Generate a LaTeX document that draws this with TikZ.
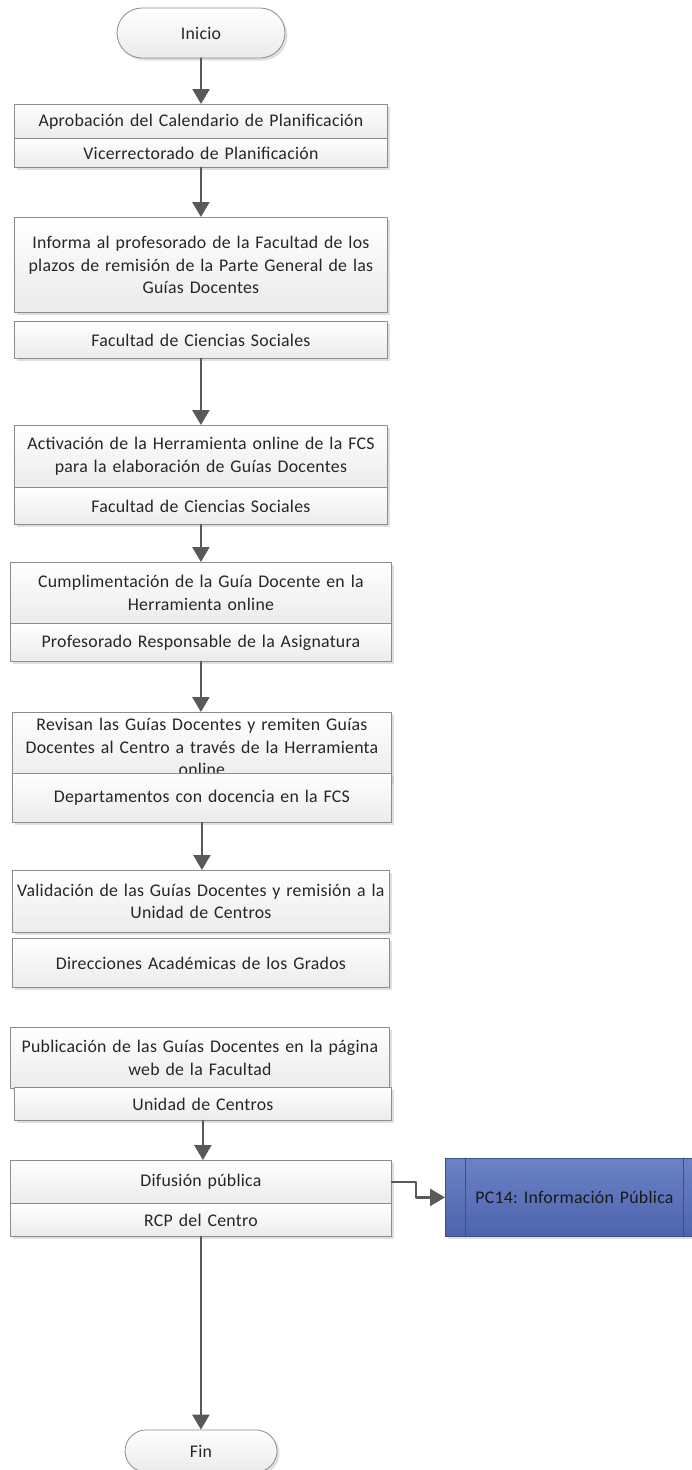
\documentclass[tikz,border=0pt]{standalone}
\usepackage{fontspec}
\setmainfont{Carlito}[LetterSpace=1.5]
\frenchspacing
\usetikzlibrary{arrows.meta,shadows,shapes.misc}
\definecolor{boxline}{HTML}{8C8C8C}
\definecolor{boxlow}{HTML}{EBEBEB}
\definecolor{flecha}{HTML}{595959}
\definecolor{azulalto}{HTML}{6C82C6}
\definecolor{azulbajo}{HTML}{4C63AE}
\definecolor{azulline}{HTML}{3F4F80}
\begin{document}
\begin{tikzpicture}[x=1pt,y=-1pt,line cap=round,line join=round,
	caja/.style={draw=boxline,line width=0.8pt,top color=white,bottom color=boxlow,inner sep=0pt,align=center,anchor=north west,text=black!85,font=\fontsize{17.8}{22.8}\selectfont,drop shadow={shadow xshift=2.5pt,shadow yshift=-2.5pt,fill=black!25,opacity=0.5}},
	termino/.style={caja,rounded rectangle,anchor=center},
	flecha/.style={draw=flecha,line width=2.5pt,-{Triangle[width=17pt,length=15pt]}}]
	\useasboundingbox (0,0) rectangle (692,1470);
	\node[termino,minimum width=168,minimum height=50] (ini) at (201,33) {Inicio};
	\node[caja,text width=373,minimum height=34] (s1a) at (14,104) {Aprobación del Calendario de Planificación};
	\node[caja,text width=373,minimum height=29] (s1b) at (14,138) {Vicerrectorado de Planificación};
	\node[caja,text width=373,minimum height=95] (s2a) at (14,217) {Informa al profesorado de la Facultad de los\\ plazos de remisión de la Parte General de las\\ Guías Docentes};
	\node[caja,text width=373,minimum height=37] (s2b) at (14,321) {Facultad de Ciencias Sociales};
	\node[caja,text width=373,minimum height=62] (s3a) at (14,425) {Activación de la Herramienta online de la FCS\\ para la elaboración de Guías Docentes};
	\node[caja,text width=373,minimum height=37] (s3b) at (14,487) {Facultad de Ciencias Sociales};
	\node[caja,text width=381,minimum height=61] (s4a) at (10,562) {Cumplimentación de la Guía Docente en la\\ Herramienta online};
	\node[caja,text width=381,minimum height=38] (s4b) at (10,623) {Profesorado Responsable de la Asignatura};
	\node[caja,text width=379,minimum height=69] (s5a) at (12,712) {Revisan las Guías Docentes y remiten Guías\\ Docentes al Centro a través de la Herramienta\\ online};
	\node[caja,text width=379,minimum height=49] (s5b) at (12,773) {Departamentos con docencia en la FCS};
	\node[caja,text width=377,minimum height=62] (s6a) at (12,870) {Validación de las Guías Docentes y remisión a la\\ Unidad de Centros};
	\node[caja,text width=377,minimum height=49] (s6b) at (12,938) {Direcciones Académicas de los Grados};
	\node[caja,text width=379,minimum height=61] (s7a) at (10,1027) {Publicación de las Guías Docentes en la página\\ web de la Facultad};
	\node[caja,text width=377,minimum height=33] (s7b) at (14,1087) {Unidad de Centros};
	\node[caja,text width=381,minimum height=43] (s8a) at (10,1160) {Difusión pública};
	\node[caja,text width=381,minimum height=33] (s8b) at (10,1203) {RCP del Centro};
	\node[caja,draw=azulline,top color=azulalto,bottom color=azulbajo,text=black!90,text width=247,minimum height=78] (pc14) at (445,1158) {\hspace*{11pt}PC14: Información Pública};
	\draw[azulline,line width=0.8pt] ([xshift=20pt]pc14.north west) -- ([xshift=20pt]pc14.south west);
	\draw[azulline,line width=0.8pt] ([xshift=-9pt]pc14.north east) -- ([xshift=-9pt]pc14.south east);
	\node[termino,minimum width=152,minimum height=42] (fin) at (201,1451) {Fin};
	\draw[flecha] (ini.south) -- (ini.south |- s1a.north);
	\draw[flecha] (s1b.south) -- (s1b.south |- s2a.north);
	\draw[flecha] (s2b.south) -- (s2b.south |- s3a.north);
	\draw[flecha] (s3b.south) -- (s3b.south |- s4a.north);
	\draw[flecha] (s4b.south) -- (s4b.south |- s5a.north);
	\draw[flecha] (s5b.south) -- (s5b.south |- s6a.north);
	\draw[flecha] (s7b.south) -- (s7b.south |- s8a.north);
	\draw[flecha] (s8a.east) -- ++(24,0) |- (pc14.west);
	\draw[flecha] (s8b.south) -- (s8b.south |- fin.north);
\end{tikzpicture}
\end{document}
